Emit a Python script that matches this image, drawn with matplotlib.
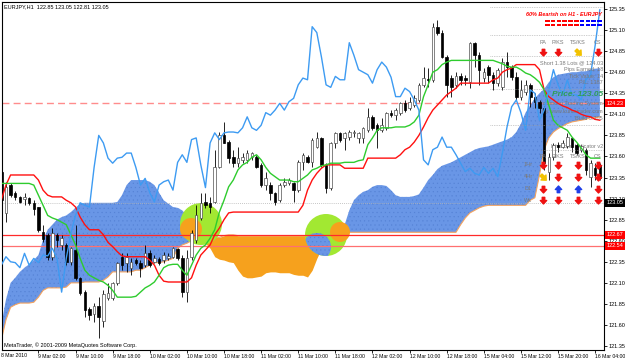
import numpy as np
import matplotlib
matplotlib.use('Agg')
import matplotlib.pyplot as plt
from matplotlib.patches import Rectangle, Circle
from matplotlib.path import Path
from matplotlib.transforms import Affine2D, blended_transform_factory

plt.rcParams['font.family'] = ['Liberation Sans', 'DejaVu Sans']
plt.rcParams['hatch.linewidth'] = 0.35

# EURJPY H1 candles, one value per bar
opens = [123.42, 122.93, 123.26, 123.17, 123.12, 123.09, 123.11, 123.05, 123.00, 122.70,
         122.67, 122.41, 122.67, 122.55, 122.55, 122.35, 122.49, 122.16, 121.99, 121.79,
         121.73, 121.82, 121.65, 121.92, 121.92, 122.10, 122.41, 122.34, 122.28, 122.37,
         122.34, 122.31, 122.45, 122.35, 122.38, 122.37, 122.39, 122.41, 122.50, 122.39,
         121.99, 122.41, 122.61, 122.87, 123.06, 123.05, 123.06, 123.47, 123.85, 123.77,
         123.59, 123.52, 123.56, 123.56, 123.59, 123.59, 123.50, 123.26, 123.26, 123.17,
         123.08, 123.26, 123.28, 123.28, 123.20, 123.53, 123.59, 123.53, 123.71, 123.82,
         123.50, 123.23, 123.76, 123.88, 123.82, 123.83, 123.88, 123.82, 123.82, 123.91,
         124.07, 123.97, 123.91, 123.94, 124.12, 124.09, 124.12, 124.23, 124.18, 124.21,
         124.27, 124.45, 124.52, 124.51, 125.14, 125.07, 124.78, 124.53, 124.45, 124.55,
         124.53, 124.48, 124.95, 124.80, 124.53, 124.66, 124.57, 124.47, 124.42, 124.72,
         124.66, 124.54, 124.31, 124.37, 124.45, 124.31, 124.25, 124.18, 123.42, 123.59,
         123.74, 123.71, 123.72, 123.82, 123.74, 123.68, 123.68, 123.36, 123.46, 123.50]
highs = [123.46, 123.30, 123.28, 123.19, 123.13, 123.17, 123.12, 123.08, 123.00, 122.79,
         122.69, 122.75, 122.69, 122.67, 122.57, 122.53, 122.79, 122.17, 122.01, 121.81,
         121.86, 121.93, 122.01, 122.10, 122.11, 122.35, 122.45, 122.45, 122.39, 122.39,
         122.37, 122.55, 122.49, 122.43, 122.41, 122.47, 122.45, 122.53, 122.51, 122.43,
         122.49, 122.73, 123.02, 123.17, 123.17, 123.12, 123.68, 123.89, 124.01, 123.80,
         123.68, 123.71, 123.64, 123.68, 123.65, 123.62, 123.52, 123.42, 123.30, 123.18,
         123.28, 123.34, 123.34, 123.30, 123.56, 123.64, 123.62, 123.82, 123.89, 123.83,
         123.52, 123.77, 123.89, 123.89, 123.89, 123.91, 123.91, 123.89, 123.95, 124.18,
         124.09, 124.00, 124.06, 124.13, 124.15, 124.18, 124.25, 124.27, 124.31, 124.33,
         124.47, 124.66, 124.65, 125.18, 125.22, 125.10, 124.80, 124.57, 124.60, 124.59,
         124.57, 124.96, 124.96, 124.84, 124.65, 124.69, 124.60, 124.65, 124.77, 124.84,
         124.69, 124.60, 124.51, 124.51, 124.47, 124.35, 124.27, 124.20, 123.64, 123.76,
         123.77, 123.80, 123.88, 123.83, 123.76, 123.74, 123.70, 123.56, 123.52, 123.52]
lows = [123.02, 122.82, 123.12, 123.08, 123.05, 123.02, 123.02, 122.90, 122.70, 122.58,
        122.37, 122.37, 122.53, 122.49, 122.31, 122.31, 122.13, 121.96, 121.69, 121.66,
        121.64, 121.45, 121.58, 121.90, 121.90, 122.07, 122.25, 122.23, 122.19, 122.31,
        122.17, 122.29, 122.29, 122.34, 122.31, 122.34, 122.37, 122.39, 122.37, 121.93,
        121.87, 122.37, 122.57, 122.85, 122.99, 122.93, 123.05, 123.46, 123.76, 123.52,
        123.47, 123.47, 123.52, 123.52, 123.56, 123.46, 123.24, 123.20, 123.08, 123.02,
        123.06, 123.24, 123.26, 123.06, 123.18, 123.44, 123.52, 123.47, 123.70, 123.47,
        123.17, 123.20, 123.70, 123.77, 123.68, 123.80, 123.83, 123.76, 123.76, 123.89,
        123.91, 123.70, 123.89, 123.91, 124.07, 124.03, 124.09, 124.13, 124.15, 124.19,
        124.25, 124.42, 124.42, 124.48, 125.04, 124.77, 124.31, 124.31, 124.41, 124.45,
        124.45, 124.41, 124.66, 124.45, 124.48, 124.47, 124.39, 124.44, 124.39, 124.54,
        124.51, 124.27, 124.27, 124.33, 124.19, 124.18, 124.12, 123.44, 123.32, 123.56,
        123.65, 123.70, 123.70, 123.65, 123.62, 123.65, 123.38, 123.24, 123.32, 123.32]
closes = [123.08, 123.24, 123.14, 123.12, 123.06, 123.12, 123.05, 122.98, 122.73, 122.62,
          122.41, 122.69, 122.61, 122.63, 122.35, 122.51, 122.16, 121.98, 121.78, 121.72,
          121.82, 121.69, 121.97, 121.98, 122.10, 122.34, 122.31, 122.41, 122.35, 122.34,
          122.28, 122.45, 122.31, 122.39, 122.34, 122.43, 122.42, 122.51, 122.39, 121.99,
          122.39, 122.69, 122.90, 123.05, 123.02, 123.00, 123.47, 123.85, 123.76, 123.58,
          123.52, 123.58, 123.59, 123.64, 123.64, 123.47, 123.26, 123.34, 123.17, 123.06,
          123.26, 123.30, 123.32, 123.20, 123.53, 123.62, 123.53, 123.80, 123.82, 123.50,
          123.23, 123.76, 123.88, 123.80, 123.88, 123.89, 123.89, 123.88, 123.94, 124.07,
          123.94, 123.91, 123.97, 124.12, 124.09, 124.15, 124.23, 124.15, 124.25, 124.29,
          124.45, 124.53, 124.51, 125.14, 125.07, 124.78, 124.45, 124.42, 124.55, 124.51,
          124.51, 124.95, 124.80, 124.63, 124.60, 124.57, 124.47, 124.63, 124.72, 124.66,
          124.54, 124.31, 124.39, 124.45, 124.31, 124.25, 124.18, 123.52, 123.59, 123.74,
          123.71, 123.76, 123.83, 123.71, 123.64, 123.72, 123.44, 123.52, 123.38, 123.34]

# Ichimoku lines
tenkan = [123.28, 123.28, 123.28, 123.28, 123.28, 123.28, 123.28, 123.26, 123.14, 123.02,
          122.90, 122.87, 122.85, 122.82, 122.79, 122.67, 122.55, 122.39, 122.25, 122.19,
          122.16, 122.13, 122.11, 122.07, 122.01, 121.93, 121.93, 121.93, 121.93, 121.94,
          121.99, 122.04, 122.07, 122.11, 122.19, 122.28, 122.31, 122.32, 122.32, 122.25,
          122.19, 122.31, 122.43, 122.51, 122.55, 122.63, 122.73, 122.94, 123.08, 123.24,
          123.32, 123.44, 123.50, 123.53, 123.59, 123.62, 123.56, 123.47, 123.40, 123.36,
          123.32, 123.32, 123.32, 123.30, 123.30, 123.34, 123.38, 123.44, 123.46, 123.49,
          123.50, 123.52, 123.52, 123.52, 123.53, 123.53, 123.53, 123.55, 123.56, 123.74,
          123.82, 123.91, 123.94, 123.94, 123.94, 123.95, 123.95, 123.95, 123.97, 124.01,
          124.09, 124.31, 124.45, 124.60, 124.63, 124.69, 124.72, 124.74, 124.74, 124.74,
          124.74, 124.74, 124.74, 124.74, 124.74, 124.74, 124.74, 124.72, 124.70, 124.67,
          124.66, 124.66, 124.63, 124.59, 124.57, 124.53, 124.48, 124.39, 124.21, 124.03,
          123.97, 123.94, 123.91, 123.83, 123.77, 123.70, 123.62, 123.58, 123.58, 123.58]
kijun = [123.08, 123.26, 123.38, 123.38, 123.38, 123.38, 123.38, 123.38, 123.32, 123.20,
         123.14, 123.12, 123.12, 123.12, 123.08, 123.05, 123.00, 122.88, 122.79, 122.73,
         122.73, 122.73, 122.67, 122.58, 122.53, 122.47, 122.42, 122.41, 122.41, 122.41,
         122.41, 122.41, 122.37, 122.31, 122.19, 122.12, 122.11, 122.11, 122.11, 122.11,
         122.11, 122.16, 122.31, 122.43, 122.49, 122.55, 122.67, 122.75, 122.85, 122.93,
         122.94, 122.94, 122.94, 122.94, 122.94, 122.94, 122.94, 122.94, 122.94, 122.94,
         122.94, 122.94, 122.94, 122.94, 122.94, 123.02, 123.20, 123.32, 123.40, 123.46,
         123.50, 123.50, 123.50, 123.50, 123.46, 123.46, 123.46, 123.46, 123.46, 123.58,
         123.58, 123.58, 123.58, 123.58, 123.58, 123.58, 123.62, 123.68, 123.71, 123.77,
         123.85, 123.95, 124.06, 124.15, 124.21, 124.27, 124.33, 124.37, 124.41, 124.47,
         124.47, 124.47, 124.47, 124.47, 124.47, 124.47, 124.51, 124.53, 124.60, 124.63,
         124.65, 124.69, 124.69, 124.69, 124.69, 124.69, 124.63, 124.39, 124.31, 124.27,
         124.23, 124.20, 124.18, 124.15, 124.13, 124.10, 124.08, 124.07, 124.04, 124.03]
chikou = [122.31, 122.41, 122.35, 122.34, 122.28, 122.45, 122.31, 122.39, 122.34, 122.43,
          122.42, 122.51, 122.39, 121.99, 122.39, 122.69, 122.90, 123.05, 123.02, 123.00,
          123.47, 123.85, 123.76, 123.58, 123.52, 123.58, 123.59, 123.64, 123.64, 123.47,
          123.26, 123.34, 123.17, 123.06, 123.26, 123.30, 123.32, 123.20, 123.53, 123.62,
          123.53, 123.80, 123.82, 123.50, 123.23, 123.76, 123.88, 123.80, 123.88, 123.89,
          123.89, 123.88, 123.94, 124.07, 123.94, 123.91, 123.97, 124.12, 124.09, 124.15,
          124.23, 124.15, 124.25, 124.29, 124.45, 124.53, 124.51, 125.14, 125.07, 124.78,
          124.45, 124.42, 124.55, 124.51, 124.51, 124.95, 124.80, 124.63, 124.60, 124.57,
          124.47, 124.63, 124.72, 124.66, 124.54, 124.31, 124.31, 124.41, 124.37, 124.27,
          124.15, 123.56, 123.50, 123.68, 123.71, 123.83, 123.71, 123.71, 123.62, 123.52,
          123.42, 123.46, 123.40, 123.38, 123.47, 123.40, 123.46, 123.36, 123.64, 123.95,
          124.19, 124.27, 124.12, 123.91, 124.39, 124.35, 124.03, 124.15, 124.39, 124.63,
          124.45, 124.33, 124.51, 124.33, 124.33, 124.27, 124.51, 124.57, 124.92, 125.34]
span_a = [121.60, 121.90, 122.10, 122.16, 122.23, 122.28, 122.32, 122.37, 122.43, 122.61,
          122.73, 122.79, 122.85, 122.88, 122.90, 122.94, 122.99, 123.04, 123.05, 123.05,
          123.05, 123.05, 123.05, 123.05, 123.05, 123.06, 123.14, 123.26, 123.32, 123.32,
          123.32, 123.32, 123.30, 123.26, 123.17, 123.08, 123.04, 123.00, 122.99, 122.96,
          122.90, 122.82, 122.73, 122.66, 122.57, 122.51, 122.41, 122.38, 122.37, 122.35,
          122.34, 122.25, 122.18, 122.16, 122.16, 122.17, 122.18, 122.22, 122.23, 122.23,
          122.22, 122.22, 122.22, 122.20, 122.19, 122.19, 122.17, 122.25, 122.39, 122.51,
          122.61, 122.66, 122.70, 122.70, 122.79, 122.96, 123.08, 123.14, 123.18, 123.20,
          123.24, 123.26, 123.26, 123.25, 123.20, 123.14, 123.12, 123.12, 123.12, 123.13,
          123.15, 123.23, 123.32, 123.38, 123.45, 123.49, 123.51, 123.53, 123.56, 123.59,
          123.62, 123.65, 123.68, 123.70, 123.71, 123.72, 123.74, 123.76, 123.78, 123.80,
          123.83, 123.89, 123.99, 124.12, 124.21, 124.29, 124.35, 124.40, 124.48, 124.54,
          124.57, 124.58, 124.59, 124.60, 124.60, 124.61, 124.61, 124.63, 124.64, 124.65]
span_b = [121.42, 121.66, 121.81, 121.84, 121.86, 121.86, 121.86, 121.87, 121.93, 122.01,
          122.04, 122.04, 122.04, 122.04, 122.05, 122.10, 122.10, 122.10, 122.11, 122.11,
          122.11, 122.11, 122.13, 122.17, 122.23, 122.23, 122.23, 122.23, 122.23, 122.25,
          122.25, 122.28, 122.31, 122.34, 122.34, 122.35, 122.37, 122.39, 122.51, 122.55,
          122.57, 122.60, 122.61, 122.62, 122.63, 122.63, 122.64, 122.64, 122.66, 122.67,
          122.67, 122.66, 122.66, 122.66, 122.66, 122.66, 122.66, 122.66, 122.66, 122.66,
          122.66, 122.66, 122.66, 122.66, 122.66, 122.66, 122.66, 122.66, 122.66, 122.66,
          122.66, 122.67, 122.69, 122.70, 122.70, 122.70, 122.70, 122.70, 122.70, 122.70,
          122.70, 122.70, 122.70, 122.70, 122.70, 122.70, 122.70, 122.70, 122.70, 122.70,
          122.70, 122.70, 122.70, 122.70, 122.70, 122.70, 122.70, 122.70, 122.70, 122.79,
          122.87, 122.93, 122.96, 122.99, 123.01, 123.02, 123.02, 123.02, 123.02, 123.02,
          123.02, 123.02, 123.02, 123.02, 123.08, 123.11, 123.38, 123.68, 123.82, 123.89,
          123.93, 123.96, 123.99, 124.01, 124.02, 124.03, 124.04, 124.06, 124.06, 124.07]

time_labels = ['8 Mar 2010', '9 Mar 02:00', '9 Mar 10:00', '9 Mar 18:00', '10 Mar 02:00',
               '10 Mar 10:00', '10 Mar 18:00', '11 Mar 02:00', '11 Mar 10:00', '11 Mar 18:00',
               '12 Mar 02:00', '12 Mar 10:00', '12 Mar 18:00', '15 Mar 04:00', '15 Mar 12:00',
               '15 Mar 20:00', '16 Mar 04:00']
price_ticks = [125.35, 125.10, 124.85, 124.60, 124.35, 124.10, 123.85, 123.60, 123.35,
               123.10, 122.85, 122.60, 122.35, 122.10, 121.85, 121.60, 121.35]

bid = 123.05
pending_line = 124.23
level_lines = [122.67, 122.54]

sig_cols = ['PA', 'P/KS', 'TS/KS', 'CS']
sig_rows = ['1Hr', '4Hr', 'D1', 'Wk']
sig_h1 = ['down', 'down', 'diag', 'down']
sig_grid = [['down', 'down', 'down', 'down'],
            ['diag', 'down', 'down', 'down'],
            ['down', 'up', 'up', 'down'],
            ['down', 'down', 'down', 'down']]
bearish_pct = 60
info_lines = ['Short 1.38 Lots @ 124.03', 'Pips Earned: 18', 'Tick Value: 14', 'P/L: 1387']

W, H = 625, 361
fig = plt.figure(figsize=(W / 100, H / 100), dpi=100, facecolor='white')
ax = fig.add_axes([2 / W, 1 - 350 / H, 602 / W, 348 / H])
ax.set_facecolor('white')
pix = Affine2D().scale(1 / W, -1 / H).translate(0, 1) + fig.transFigure

x = np.arange(len(closes))
o = np.array(opens); c = np.array(closes)
hi = np.array(highs); lo = np.array(lows)

cloud_blue = '#6996e6'
cloud_dots = '#5683d6'
cloud_orange = '#f6a11d'

# cloud
a = np.array(span_a); b = np.array(span_b)
ax.fill_between(x, a, b, where=a >= b, interpolate=True, facecolor=cloud_blue,
                edgecolor=cloud_dots, hatch='....', lw=0, zorder=1)
ax.fill_between(x, a, b, where=a < b, interpolate=True, facecolor=cloud_orange,
                edgecolor=cloud_orange, lw=0, zorder=1)
ax.plot(x, b, color='#f4a460', lw=0.8, zorder=1.2)

# kumo twist markers
for cx, cy in [(201, 224), (326, 235)]:
    ax.add_patch(Circle((cx, cy), 21, transform=pix, fc='#a2e832', ec='none', zorder=1.5))
ax.add_patch(Circle((191, 229), 11, transform=pix, fc=cloud_orange, ec='none', zorder=1.6))
g2 = Circle((326, 235), 21, transform=pix, fc='none', ec='none')
ax.add_patch(g2)
blue_part = Circle((317, 247), 14, transform=pix, fc=cloud_blue, ec=cloud_dots,
                   hatch='....', lw=0, zorder=1.6)
ax.add_patch(blue_part)
blue_part.set_clip_path(g2)
ax.add_patch(Circle((340, 232), 10, transform=pix, fc=cloud_orange, ec='none', zorder=1.6))

# horizontal levels
ax.axhline(bid, color='#b4b4b4', lw=0.6, ls=(0, (1, 1.5)), zorder=2)
ax.axhline(pending_line, color='#ff8c8c', lw=1, dashes=(5, 3), zorder=2)
ax.axhline(level_lines[0], color='#ff2a2a', lw=0.9, zorder=2)
ax.axhline(level_lines[1], color='#ff7070', lw=0.9, zorder=2)

# candles
ax.vlines(x, lo, hi, color='black', lw=0.6, zorder=3)
up = c >= o
body_lo = np.minimum(o, c)
body_h = np.maximum(np.abs(c - o), 0.012)
ax.bar(x[up], body_h[up], bottom=body_lo[up], width=0.55, color='white',
       edgecolor='#505050', lw=0.5, zorder=4)
ax.bar(x[~up], body_h[~up], bottom=body_lo[~up], width=0.55, color='black',
       edgecolor='black', lw=0.5, zorder=4)

# ichimoku lines
ax.plot(x, kijun, color='#ff1010', lw=1, zorder=5)
ax.plot(x, tenkan, color='#2ecc2e', lw=1, zorder=5)
ax.plot(x, chikou, color='#3d9bf2', lw=1, zorder=5)

# axes styling
ax.set_xlim(0.15, 129.9)
ax.set_ylim(121.303, 125.433)
ax.yaxis.tick_right()
ax.set_yticks(price_ticks)
ax.set_yticklabels(['%.2f' % p for p in price_ticks])
ax.set_xticks(np.arange(8, len(closes), 8))
ax.set_xticklabels(time_labels[1:], ha='left')
ax.tick_params(axis='both', length=2, width=0.6, labelsize=4, pad=1.2, colors='black')
ax.tick_params(axis='x', labelsize=3.7)
for s in ax.spines.values():
    s.set_color('black')
    s.set_linewidth(0.8)
# first date label sits left of the plot box
ax.text(1, 355.5, time_labels[0], transform=pix, fontsize=3.7, ha='left', va='center',
        clip_on=False)

# price boxes on the right axis
yb = blended_transform_factory(ax.transAxes, ax.transData)
for val, bg in [(pending_line, '#ff0000'), (level_lines[0], '#ff0000'),
                (level_lines[1], '#ff0000'), (bid, '#000000')]:
    ax.text(1.004, val, '%.2f' % val, transform=yb, fontsize=4, color='white',
            va='center', ha='left', zorder=9, clip_on=False,
            bbox=dict(boxstyle='square,pad=0.25', fc=bg, ec='none'))

# header and footer
ax.text(4, 7, 'EURJPY,H1  122.85 123.05 122.81 123.05', transform=pix, fontsize=4,
        va='center', ha='left', zorder=9)
ax.text(4, 345, 'MetaTrader, \u00a9 2001-2009 MetaQuotes Software Corp.', transform=pix,
        fontsize=4, va='center', ha='left', zorder=9)

# signal panel
grey = '#7a7a7a'
for yy, x0 in [(7, 490), (35, 490), (56, 490), (89, 490), (125, 490), (150, 540)]:
    ax.plot([x0, 603], [yy, yy], transform=pix, color='#a0a0a0', lw=0.5,
            ls=(0, (1, 1.5)), zorder=7)
ax.text(602, 15, '%d%% Bearish on H1 - EURJPY' % bearish_pct, transform=pix, fontsize=4,
        color='#ff0000', fontweight='bold', fontstyle='italic', ha='right', va='center', zorder=8)
for k in range(10):
    col = '#ff0000' if k < bearish_pct // 10 else '#0000ff'
    for ry in (20, 24):
        ax.add_patch(Rectangle((545 + k * 5.8, ry), 4.6, 2.4, transform=pix, fc=col,
                               ec='none', zorder=8))

down = Path([(-0.2, 0.5), (0.2, 0.5), (0.2, 0.0), (0.5, 0.0), (0.0, -0.55),
             (-0.5, 0.0), (-0.2, 0.0), (-0.2, 0.5)],
            [Path.MOVETO] + [Path.LINETO] * 6 + [Path.CLOSEPOLY])
arrows = {'down': (down, '#ee1111'),
          'up': (Affine2D().scale(1, -1).transform_path(down), '#1f3fe8'),
          'diag': (Affine2D().rotate_deg(45).transform_path(down), '#f2c200')}
col_x = [543, 558, 578, 598]


def arrow(kind, px, py):
    pth, col = arrows[kind]
    ax.plot([px], [py], transform=pix, marker=pth, ms=5, color=col, ls='none',
            zorder=8, clip_on=False)


for cx, name, kind in zip(col_x, sig_cols, sig_h1):
    ax.text(cx, 42, name, transform=pix, fontsize=4, color=grey, ha='center',
            va='center', zorder=8)
    arrow(kind, cx, 52)

for k, line in enumerate(info_lines):
    ax.text(603, [63, 70, 77, 83][k], line, transform=pix, fontsize=4, color=grey,
            ha='right', va='center', zorder=8)
ax.text(603, 94, 'Price: %.2f' % bid, transform=pix, fontsize=6, color='#2f9e57',
        fontweight='bold', fontstyle='italic', ha='right', va='center', zorder=8)
for yy, txt in [(104, 'Ichimoku Trading System'), (111, 'By www.kumotrader.com'),
                (119, 'Build 5.305'), (146, 'Ichimoku Indicator v2')]:
    ax.text(603, yy, txt, transform=pix, fontsize=4, color=grey, ha='right',
            va='center', zorder=2.5)

for cx, name in zip(col_x, sig_cols):
    ax.text(cx, 156, name, transform=pix, fontsize=4, color=grey, ha='center',
            va='center', zorder=8)
for r, (ry, rname) in enumerate(zip([165, 177, 189, 200], sig_rows)):
    ax.text(528, ry, rname, transform=pix, fontsize=4, color=grey, ha='center',
            va='center', zorder=8)
    for cx, kind in zip(col_x, sig_grid[r]):
        arrow(kind, cx, ry)

ax.set_xlim(0.15, 129.9)
ax.set_ylim(121.303, 125.433)
fig.savefig('out.png', dpi=100, facecolor='white')
